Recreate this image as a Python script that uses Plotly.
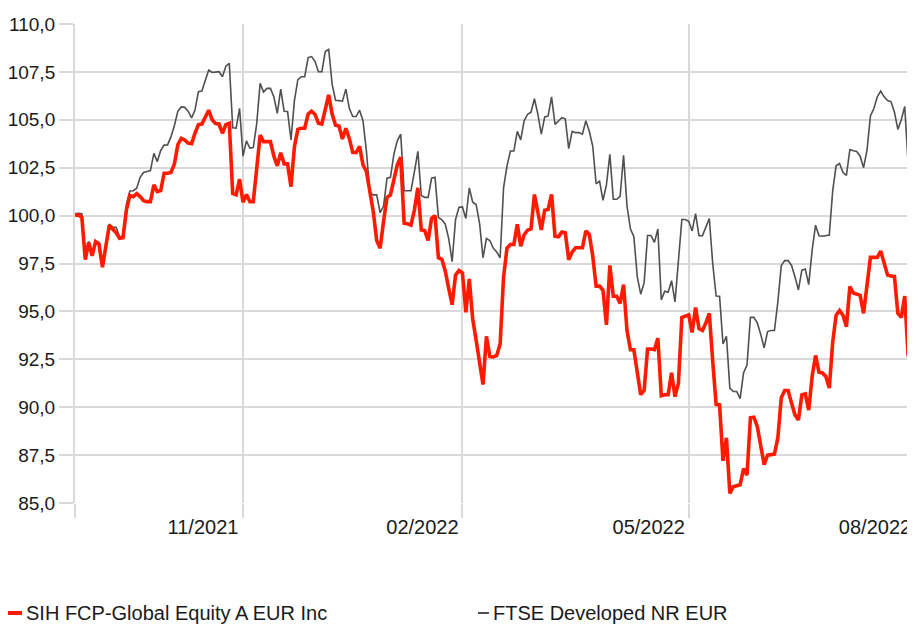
import pandas as pd
import plotly.graph_objects as go

# ---------------- data ----------------
series_names = ["SIH FCP-Global Equity A EUR Inc", "FTSE Developed NR EUR"]
start_date = "2021-09-22"
end_date = "2022-08-31"
dates = pd.bdate_range(start_date, end_date)

fund = [
    100.0, 100.05, 99.9, 97.7, 98.6, 97.9, 98.64, 98.5, 97.3, 98.4,
    99.5, 99.3, 99.1, 98.82, 98.85, 100.3, 101.05, 100.99, 101.15, 100.99,
    100.78, 100.73, 100.73, 101.6, 101.25, 101.3, 102.21, 102.21, 102.25, 102.7,
    103.7, 104.03, 103.95, 103.78, 103.75, 104.3, 104.75, 104.78, 105.2, 105.5,
    105.0, 104.8, 104.78, 104.3, 104.75, 104.82, 101.15, 101.08, 101.9, 100.7,
    101.1, 100.73, 100.73, 102.56, 104.2, 103.86, 103.86, 103.86, 103.1, 102.6,
    103.28, 102.7, 102.7, 101.51, 103.6, 104.5, 104.56, 104.56, 105.3, 105.45,
    105.28, 104.82, 104.78, 105.55, 106.3, 105.3, 104.72, 104.68, 104.0, 104.55,
    104.03, 103.3, 103.29, 103.62, 102.65, 102.3, 101.2, 100.2, 98.7, 98.3,
    99.7, 100.95, 101.08, 101.9, 102.65, 103.05, 99.6, 99.57, 99.5, 100.3,
    101.45, 99.25, 99.22, 98.7, 99.85, 100.0, 97.8, 97.72, 97.1, 96.2,
    95.35, 96.9, 97.13, 97.0, 94.95, 96.7, 94.6, 93.5, 92.2, 91.18,
    93.7, 92.65, 92.62, 92.7, 93.3, 96.8, 98.3, 98.49, 98.49, 99.55,
    98.4, 99.0, 99.24, 99.3, 101.1, 100.1, 99.25, 100.28, 100.32, 101.1,
    98.93, 98.9, 99.14, 99.1, 97.7, 98.1, 98.32, 98.32, 98.32, 99.2,
    99.02, 97.9, 96.32, 96.32, 96.1, 94.3, 97.4, 95.79, 95.79, 95.42,
    96.4, 94.0, 93.0, 93.0, 91.8, 90.65, 90.88, 93.04, 93.04, 93.0,
    93.6, 90.6, 90.65, 90.65, 91.8, 90.55, 91.26, 94.68, 94.75, 94.82,
    93.9, 95.2, 94.1, 94.0, 94.4, 94.9, 92.4, 90.15, 90.12, 87.2,
    88.4, 85.5, 85.85, 85.88, 85.95, 86.8, 86.45, 89.45, 89.48, 89.0,
    87.9, 87.0, 87.5, 87.52, 87.55, 88.4, 90.5, 90.87, 90.87, 90.2,
    89.6, 89.33, 90.64, 90.7, 89.85, 91.6, 92.7, 91.83, 91.79, 91.6,
    91.0, 93.4, 94.8, 95.04, 94.8, 94.2, 96.3, 95.96, 95.91, 95.84,
    94.9, 96.3, 97.82, 97.82, 97.82, 98.15, 97.45, 96.9, 96.85, 96.83,
    94.9, 94.69, 95.8, 92.7, 92.6, 90.96,
]

benchmark = [
    100.1, 100.12, 100.1, 97.9, 98.65, 98.0, 98.65, 98.6, 97.45, 98.5,
    99.55, 99.4, 99.39, 98.9, 98.92, 100.6, 101.28, 101.3, 101.43, 102.0,
    102.25, 102.3, 102.35, 103.25, 102.82, 103.4, 103.68, 103.69, 104.12, 104.7,
    105.45, 105.67, 105.65, 105.45, 105.1, 105.51, 106.47, 106.5, 107.0, 107.6,
    107.47, 107.51, 107.51, 107.25, 107.8, 107.95, 104.58, 104.56, 105.6, 103.1,
    103.9, 103.52, 103.55, 104.8, 106.9, 106.45, 106.64, 106.64, 106.2, 105.34,
    106.6, 105.45, 105.43, 103.95, 106.0, 107.1, 107.25, 107.25, 108.25, 108.3,
    108.05, 107.51, 107.51, 108.56, 108.68, 106.85, 106.02, 106.0, 105.97, 106.6,
    105.6, 105.17, 105.17, 105.5, 104.95, 103.35, 101.2, 101.08, 101.08, 100.15,
    100.5, 101.95, 102.0, 103.2, 103.9, 104.25, 101.3, 101.3, 101.3, 102.3,
    103.35, 101.05, 100.95, 100.95, 101.95, 102.0, 99.9, 99.78, 99.55, 98.8,
    97.6, 99.8, 100.43, 100.45, 99.85, 101.45, 100.7, 100.58, 99.6, 97.8,
    98.8, 98.7, 98.3, 98.1, 97.8, 101.45, 102.6, 103.37, 103.37, 104.4,
    103.95, 104.95, 105.29, 105.4, 106.1, 105.3, 104.25, 105.15, 105.2, 106.2,
    104.76, 104.94, 105.11, 105.05, 103.5, 104.4, 104.33, 104.33, 104.25, 104.95,
    104.4, 103.63, 101.66, 101.8, 100.8, 101.6, 103.2, 100.85, 100.85, 101.0,
    103.15, 100.5, 99.31, 98.9, 96.8, 95.9, 96.5, 98.96, 98.96, 98.6,
    99.3, 95.6, 96.05, 96.0, 96.6, 95.5, 97.45, 99.8, 99.8, 99.7,
    99.2, 100.1, 98.95, 98.95, 99.4, 99.85, 97.5, 95.8, 95.79, 93.3,
    93.7, 91.0, 90.82, 90.82, 90.45, 91.8, 92.2, 94.69, 94.69, 94.4,
    93.8, 93.1, 93.95, 94.0, 94.0, 95.5, 97.4, 97.65, 97.65, 97.4,
    96.8, 96.12, 97.15, 97.21, 96.4, 98.2, 99.5, 98.95, 98.92, 98.95,
    98.98, 101.3, 102.6, 102.72, 102.25, 102.1, 103.45, 103.38, 103.35, 103.1,
    102.5, 103.4, 105.2, 105.59, 106.2, 106.5, 106.2, 106.0, 105.95, 105.4,
    104.5, 105.0, 105.7, 102.72, 102.6, 101.12,
]

x_tick_dates = ["2021-09-22", "2021-11-30", "2022-02-28", "2022-05-31", "2022-08-31"]
x_tick_labels = ["", "11/2021", "02/2022", "05/2022", "08/2022"]
y_range = [85, 110]
y_step = 2.5

assert len(dates) == len(fund) == len(benchmark), (len(dates), len(fund), len(benchmark))

# ---------------- style ----------------
OFF = 8                      # page body margin of the html page
W, H = 915 - OFF, 625 - OFF
ML, MR, MT, MB = 75 - OFF, 0, 24 - OFF, 122
FONT = "Liberation Sans, Arial, sans-serif"
GRID = "#d9d9d9"
RED = "#ff1a00"
GRAY = "#505050"
TXT = "#1a1a1a"

fig = go.Figure()
fig.add_trace(go.Scatter(x=dates, y=benchmark, mode="lines", name=series_names[1],
                         line=dict(color=GRAY, width=1.6), showlegend=False))
fig.add_trace(go.Scatter(x=dates, y=fund, mode="lines", name=series_names[0],
                         line=dict(color=RED, width=3.6), showlegend=False))

pw = W - ML - MR
ph = H - MT - MB


def px2x(px):
    return (px - OFF - ML) / pw


def py2y(py):
    return (H - MB - (py - OFF)) / ph


# custom legend (short line symbol + text), positions in page pixels
leg_y = 613
legend_items = [
    (series_names[0], RED, 4, 8, 22, 24),
    (series_names[1], GRAY, 2, 478, 489, 491),
]
for name, col, lw, sx0, sx1, tx in legend_items:
    fig.add_shape(type="line", xref="paper", yref="paper",
                  x0=px2x(sx0), x1=px2x(sx1), y0=py2y(leg_y), y1=py2y(leg_y),
                  line=dict(color=col, width=lw))
    fig.add_annotation(xref="paper", yref="paper", x=px2x(tx), y=py2y(leg_y),
                       xanchor="left", yanchor="middle", showarrow=False,
                       text=name, font=dict(family=FONT, size=20, color=TXT))

fig.update_layout(
    width=W, height=H,
    margin=dict(l=ML, r=MR, t=MT, b=MB, pad=0),
    paper_bgcolor="white", plot_bgcolor="white",
    separators=",.",
    showlegend=False,
    font=dict(family=FONT, size=20, color=TXT),
)
fig.update_xaxes(
    type="date",
    range=[start_date, end_date],
    rangebreaks=[dict(bounds=["sat", "mon"])],
    tickmode="array", tickvals=x_tick_dates, ticktext=x_tick_labels,
    showgrid=True, gridcolor=GRID, gridwidth=2,
    ticks="outside", ticklen=14, tickwidth=2, tickcolor=GRID,
    ticklabelshift=-40, ticklabelstandoff=-8,
    showline=False, zeroline=False, automargin=False,
    tickfont=dict(family=FONT, size=20, color=TXT),
)
fig.update_yaxes(
    range=y_range, dtick=y_step, tick0=y_range[0], tickformat=".1f",
    showgrid=True, gridcolor=GRID, gridwidth=2,
    ticks="outside", ticklen=14, tickwidth=2, tickcolor=GRID,
    showline=True, linecolor=GRID, linewidth=2,
    zeroline=False, automargin=False,
    tickfont=dict(family=FONT, size=19, color=TXT),
)

fig.write_html("out.html")
